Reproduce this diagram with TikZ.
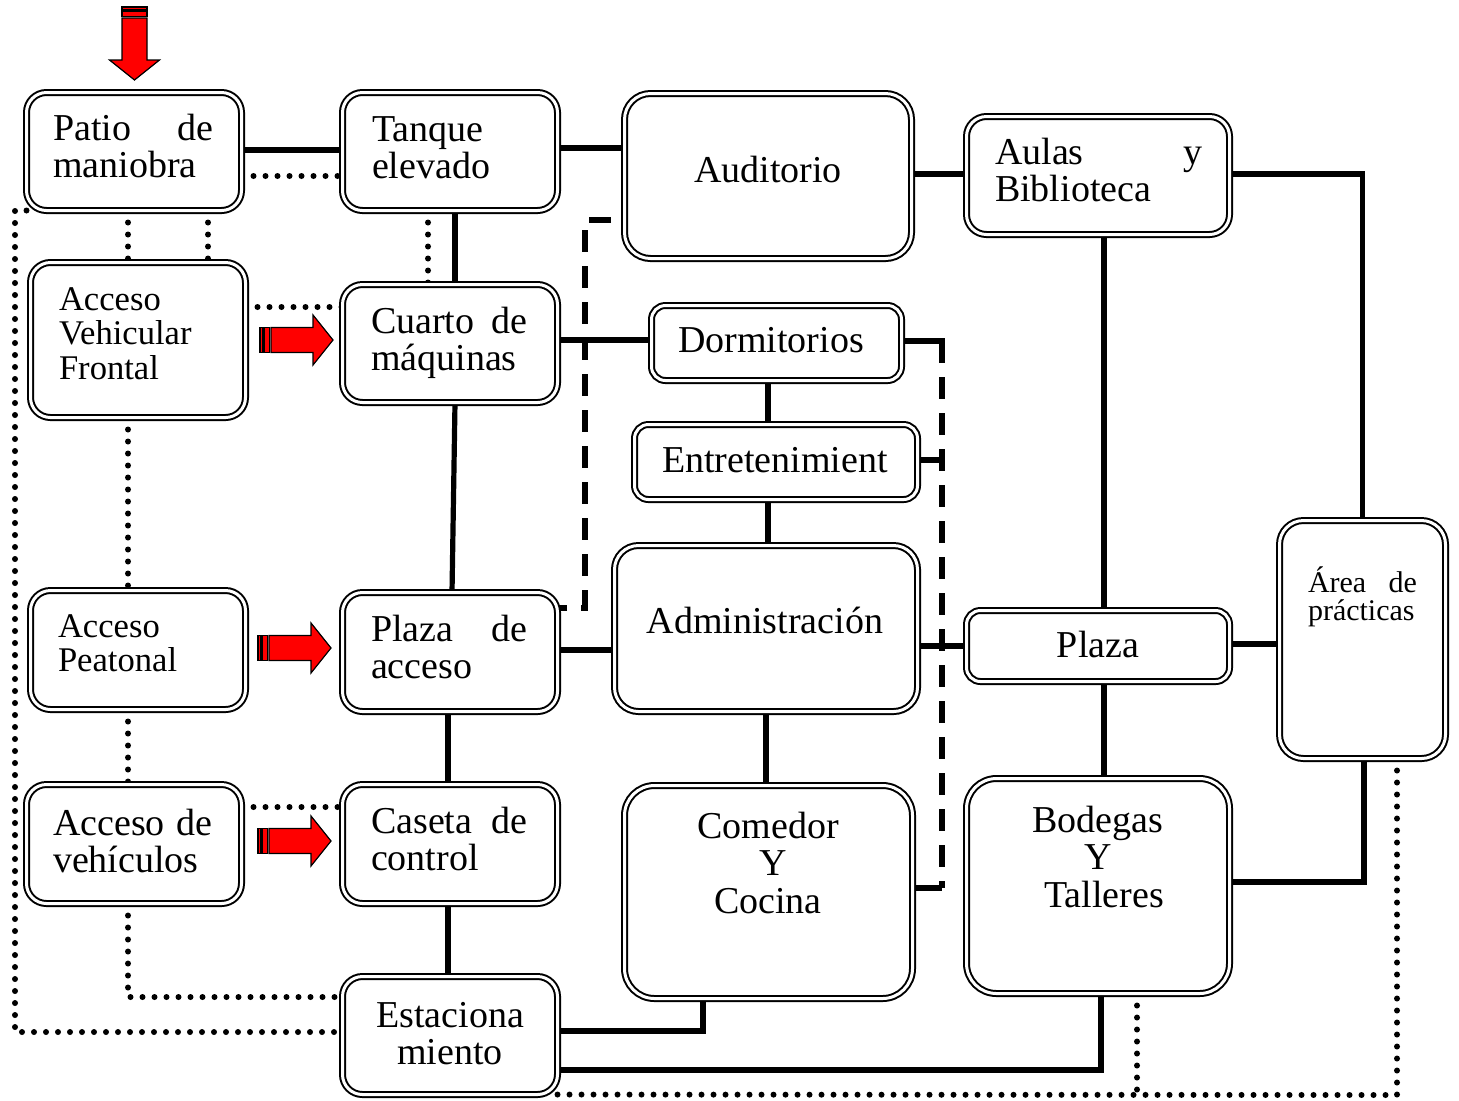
\documentclass[tikz,border=0pt]{standalone}
\usepackage{fontspec}
\setmainfont{Liberation Serif}
\pgfdeclarelayer{bg}
\pgfsetlayers{bg,main}
\tikzset{
  bx/.style={draw, double, double distance=1.5pt, line width=1pt, fill=white,
    inner sep=0pt, outer sep=0pt, rectangle},
  tx/.style={inner sep=0pt, outer sep=0pt, font=\fontsize{19}{18.75}\selectfont},
  txs/.style={inner sep=0pt, outer sep=0pt, font=\fontsize{17.3}{17.4}\selectfont},
  txa/.style={inner sep=0pt, outer sep=0pt, font=\fontsize{15}{14}\selectfont},
  sl/.style={line width=2.6pt},
  dt/.style={line width=3pt, line cap=round, dash pattern=on 0pt off 6pt},
  ds/.style={line width=2.6pt, dash pattern=on 11pt off 7pt},
  arrowpart/.style={fill=red, draw=black, line width=0.6pt},
  redarrow/.pic={
    \path[arrowpart] (0,-12.5) rectangle (3,12.5);
    \path[arrowpart] (4.5,-12.5) rectangle (9.5,12.5);
    \path[arrowpart] (11,-12.5) -- (53,-12.5) -- (53,-25) -- (73,0) -- (53,25)
      -- (53,12.5) -- (11,12.5) -- cycle;
  }
}
\newcommand{\mkbox}[6][10pt]{%
  \node[bx, rounded corners=#1,
    minimum width={(#5-#3)*0.5pt-3.5pt},
    minimum height={(#6-#4)*0.5pt-3.5pt}] (#2) at ({(#3+#5)/2},{(#4+#6)/2}) {};}
\begin{document}
\begin{tikzpicture}[x=0.5pt, y=-0.5pt]
\useasboundingbox (0,0) rectangle (1459,1100);

% boxes
\mkbox{patio}{23}{89}{245}{214}
\mkbox{tanque}{339}{89}{561}{214}
\mkbox[13pt]{audit}{621}{90}{915}{262}
\mkbox{aulas}{963}{113}{1233}{238}
\mkbox{accveh}{27}{259}{249}{421}
\mkbox{cuarto}{339}{281}{561}{406}
\mkbox[7pt]{dorm}{648}{302}{905}{384}
\mkbox[7pt]{entre}{631}{421}{921}{503}
\mkbox[12pt]{admin}{611}{542}{921}{715}
\mkbox{accpea}{27}{587}{249}{713}
\mkbox{plazaacc}{339}{589}{561}{715}
\mkbox[7pt]{plaza}{963}{607}{1233}{685}
\mkbox[12pt]{area}{1276}{517}{1449}{762}
\mkbox{accvhc}{23}{781}{245}{907}
\mkbox{caseta}{339}{781}{561}{907}
\mkbox[15pt]{comedor}{621}{782}{916}{1002}
\mkbox[15pt]{bodegas}{963}{775}{1233}{997}
\mkbox{estac}{339}{973}{561}{1098}

% texts
\node[tx, text width=80pt, align=left, anchor=base west] (patioT) at (53,140) {Patio\hfill de\\maniobra};
\node[tx, text width=80pt, align=left, anchor=base west] (tanqueT) at (372,141) {Tanque\\elevado};
\node[tx, text width=130pt, align=center, anchor=base] (auditT) at (768,182) {Auditorio};
\node[tx, text width=104pt, align=left, anchor=base west] (aulasT) at (995,164) {Aulas\hfill y\\Biblioteca};
\node[txs, text width=80pt, align=left, anchor=base west] (accvehT) at (59,310) {Acceso\\Vehicular\\Frontal};
\node[tx, text width=78pt, align=left, anchor=base west] (cuartoT) at (371,333) {Cuarto\hfill de\\máquinas};
\node[tx, text width=120pt, align=center, anchor=base] (dormT) at (771,352) {Dormitorios};
\node[tx, text width=140pt, align=center, anchor=base] (entreT) at (775,472) {Entretenimient};
\node[tx, text width=140pt, align=center, anchor=base] (adminT) at (765,633) {Administración};
\node[txs, text width=80pt, align=left, anchor=base west] (accpeaT) at (58,637) {Acceso\\Peatonal};
\node[tx, text width=78pt, align=left, anchor=base west] (plazaaccT) at (371,641) {Plaza\hfill de\\acceso};
\node[tx, text width=120pt, align=center, anchor=base] (plazaT) at (1098,657) {Plaza};
\node[txa, text width=54.5pt, align=left, anchor=base west] (areaT) at (1308,592) {Área\hfill de\\prácticas};
\node[tx, text width=79.5pt, align=left, anchor=base west] (accvhcT) at (53,835) {Acceso\hfill de\\vehículos};
\node[tx, text width=78pt, align=left, anchor=base west] (casetaT) at (371,833) {Caseta\hfill de\\control};
\node[tx, text width=130pt, align=center, anchor=base] (comedorT) at (768,838) {Comedor\\\hspace*{5pt}Y\\Cocina};
\node[tx, text width=130pt, align=center, anchor=base] (bodegasT) at (1098,832) {Bodegas\\Y\\\hspace*{6pt}Talleres};
\node[tx, text width=100pt, align=center, anchor=base] (estacT) at (450,1027) {Estaciona\\miento};

% red arrows
\pic (arrTop) at (134.5,7) [rotate=-90] {redarrow};
\pic (arrA) at (260,340) {redarrow};
\pic (arrB) at (258,648) {redarrow};
\pic (arrC) at (258,841) {redarrow};

% free-end coordinates
\coordinate (dA) at (942,341);
\coordinate (dB) at (942,888);
\coordinate (cA) at (585,608);
\coordinate (cB) at (585,220);
\coordinate (cC) at (611,220);
\coordinate (pc) at (15,1032);
\coordinate (qc) at (1397,1095);
\coordinate (qb) at (1137,1095);

\begin{pgfonlayer}{bg}
\fill[white] (0,0) rectangle (1459,1100);
% solid connectors
\draw[sl] (patio.east |- 0,150) -- (tanque.west |- 0,150);
\draw[sl] (tanque.east |- 0,148) -- (audit.west |- 0,148);
\draw[sl] (audit.east |- 0,174) -- (aulas.west |- 0,174);
\draw[sl] (aulas.east |- 0,174) -| (area.north);
\draw[sl] (aulas.south -| 1104,0) -- (plaza.north -| 1104,0);
\draw[sl] (tanque.south -| 455,0) -- (cuarto.north -| 455,0);
\draw[sl] (cuarto.east |- 0,340) -- (dorm.west |- 0,340);
\draw[sl] (cuarto.south -| 455,0) -- (plazaacc.north -| 452,0);
\draw[sl] (dorm.south -| 768,0) -- (entre.north -| 768,0);
\draw[sl] (entre.south -| 768,0) -- (admin.north -| 768,0);
\draw[sl] (dorm.east |- dA) -- ([xshift=1.3pt]dA);
\draw[sl] (entre.east |- 0,460) -- (dA |- 0,460);
\draw[sl] (comedor.east |- dB) -- (dB);
\draw[sl] (admin.east |- 0,646) -- (plaza.west |- 0,646);
\draw[sl] (plaza.east |- 0,644) -- (area.west |- 0,644);
\draw[sl] (plazaacc.east |- 0,650) -- (admin.west |- 0,650);
\draw[sl] (plazaacc.south -| 448,0) -- (caseta.north -| 448,0);
\draw[sl] (admin.south -| 766,0) -- (comedor.north -| 766,0);
\draw[sl] (plaza.south -| 1104,0) -- (bodegas.north -| 1104,0);
\draw[sl] (area.south -| 1364,0) |- (bodegas.east |- 0,882);
\draw[sl] (caseta.south -| 448,0) -- (estac.north -| 448,0);
\draw[sl] (estac.east |- 0,1031) -| (comedor.south -| 703,0);
\draw[sl] (estac.east |- 0,1070) -| (bodegas.south -| 1101,0);
% dashed connectors
\draw[ds] (dA) -- (dB);
\draw[ds] (cC) -- (cB) -- (cA) -- (plazaacc.east |- cA);
% dotted connectors
\draw[dt] (patio.east |- 0,176) -- (tanque.west |- 0,176);
\draw[dt] (tanque.south -| 428,0) -- (cuarto.north -| 428,0);
\draw[dt] (patio.south -| 128,0) -- (accveh.north -| 128,0);
\draw[dt] (patio.south -| 208,0) -- (accveh.north -| 208,0);
\draw[dt] (accveh.east |- 0,307) -- (cuarto.west |- 0,307);
\draw[dt] (accveh.south -| 128,0) -- (accpea.north -| 128,0);
\draw[dt] (accpea.south -| 128,0) -- (accvhc.north -| 128,0);
\draw[dt] (accvhc.east |- 0,807) -- (caseta.west |- 0,807);
\draw[dt] (accvhc.south -| 128,0) |- (estac.west |- 0,997);
\draw[dt] (patio.south west) -| (pc) -- (estac.west |- pc);
\draw[dt] (estac.south east) -- (qc) -- (area.south -| qc);
\draw[dt] (bodegas.south -| qb) -- (qb);
\end{pgfonlayer}
\end{tikzpicture}
\end{document}
